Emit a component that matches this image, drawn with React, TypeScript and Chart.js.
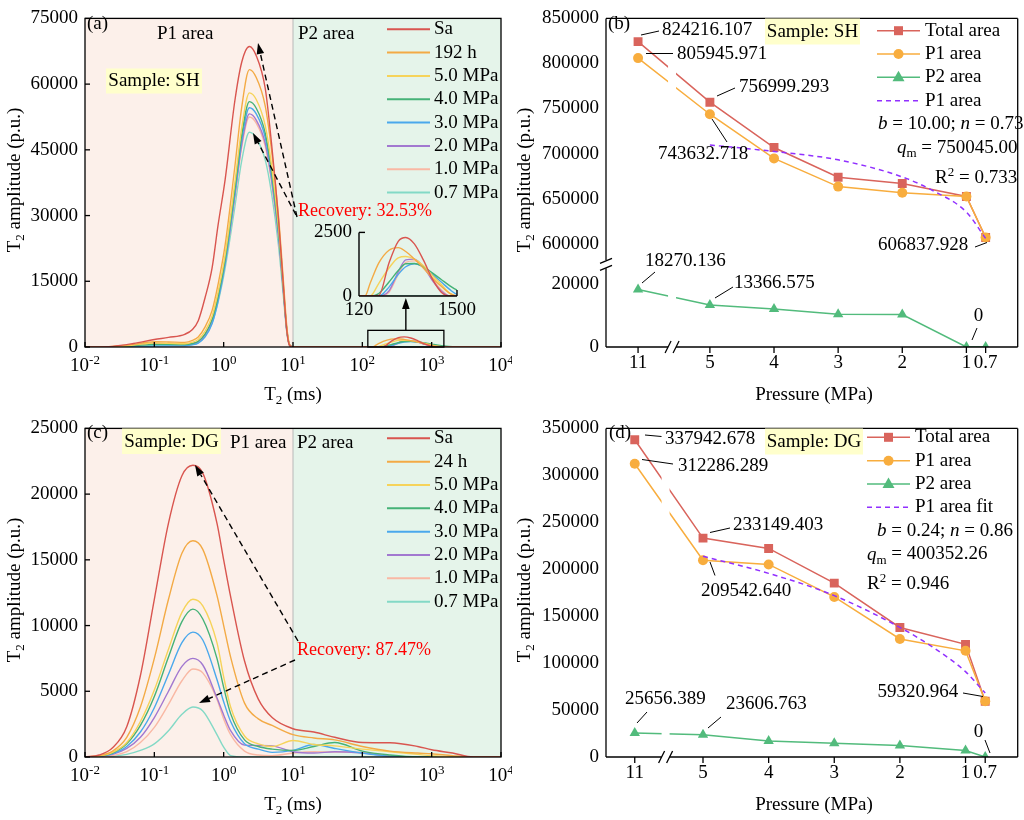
import React, { useEffect, useRef } from 'react';
import { Chart, registerables } from 'chart.js';

Chart.register(...registerables);

const SERIF = '"Liberation Serif", "Times New Roman", Times, serif';
Chart.defaults.font.family = SERIF;
Chart.defaults.font.size = 19;
Chart.defaults.color = '#000';

// ================= (a) sample SH : T2 spectra =================
const SH_T2 = [0.01, 0.025, 0.05, 0.1, 0.16, 0.275, 0.355, 0.43, 0.54, 0.68, 0.83, 1.05, 1.45, 1.82, 2.35, 2.95, 3.98, 4.9, 6.17, 7.24, 8.13, 8.9, 10,
  120, 140, 160, 200, 260, 330, 400, 500, 630, 800, 1000, 1250, 1500, 2000, 3000, 10000];
const SH_SA = [0, 150, 800, 1700, 2200, 2900, 4000, 6000, 11300, 18000, 27800, 38200, 56200, 65000, 68600, 66500, 59000, 46500, 29300, 14300, 3800, 400, 0,
  0, 0, 0, 20, 1300, 2150, 2300, 2050, 1420, 650, 150, 0, 0, 0, 0, 0];
const SH_192H = [0, 100, 600, 1200, 1150, 1050, 1500, 2300, 4600, 8300, 14300, 23300, 41200, 54700, 63300, 61500, 55000, 45000, 30000, 15500, 4800, 600, 0,
  0, 0, 500, 1300, 1800, 1900, 1750, 1450, 1100, 700, 380, 100, 0, 0, 0, 0];
const SH_50 = [0, 80, 450, 900, 850, 750, 1100, 1700, 3600, 7000, 12500, 21000, 37500, 50000, 58000, 56500, 50500, 41500, 27500, 14000, 4200, 500, 0,
  0, 0, 0, 500, 1100, 1500, 1550, 1450, 1200, 800, 450, 100, 0, 0, 0, 0];
const SH_40 = [0, 50, 300, 600, 600, 550, 800, 1300, 3000, 6300, 11500, 20000, 36000, 48300, 56000, 54500, 48800, 40000, 26500, 13500, 4000, 500, 0,
  0, 0, 0, 100, 550, 1000, 1270, 1280, 1150, 900, 650, 400, 230, 50, 0, 0];
const SH_30 = [0, 0, 50, 200, 250, 300, 500, 900, 2300, 5300, 10500, 19000, 35000, 47200, 54600, 53200, 47800, 39300, 26000, 13300, 4000, 500, 0,
  0, 0, 0, 0, 350, 850, 1150, 1270, 1150, 850, 550, 250, 60, 0, 0, 0];
const SH_20 = [0, 80, 450, 830, 750, 600, 800, 1200, 2800, 6000, 11000, 19200, 34500, 46200, 53200, 51800, 46500, 38200, 25300, 13000, 3900, 500, 0,
  0, 0, 0, 0, 200, 950, 1420, 1450, 1150, 600, 200, 0, 0, 0, 0, 0];
const SH_10 = [0, 60, 350, 650, 600, 550, 750, 1150, 2700, 5900, 10800, 19000, 34000, 45600, 52500, 51100, 45800, 37700, 25000, 12800, 3800, 450, 0,
  0, 0, 0, 0, 150, 850, 1320, 1380, 1150, 650, 250, 0, 0, 0, 0, 0];
const SH_07 = [0, 30, 200, 400, 400, 400, 600, 1000, 2500, 5500, 10200, 18000, 32000, 42500, 49000, 47700, 42700, 35100, 23200, 11800, 3400, 400, 0,
  0, 0, 0, 0, 0, 0, 0, 0, 0, 0, 0, 0, 0, 0, 0, 0];
const SH_SERIES = [SH_SA, SH_192H, SH_50, SH_40, SH_30, SH_20, SH_10, SH_07];
const SH_LABELS = ['Sa', '192 h', '5.0 MPa', '4.0 MPa', '3.0 MPa', '2.0 MPa', '1.0 MPa', '0.7 MPa'];
const INSET_X = [120, 1500];
const INSET_Y = [0, 2500];
const ZOOM_BOX_TOP = 3800;

// ================= (c) sample DG : T2 spectra =================
const DG_T2 = [0.01, 0.016, 0.025, 0.04, 0.063, 0.1, 0.16, 0.25, 0.36, 0.5, 0.8, 1, 1.26, 2, 3.16, 5, 10, 20, 40, 100, 250, 630, 1000, 2000, 4000, 10000];
const DG_SA = [0, 150, 700, 2300, 6200, 12000, 17800, 21400, 22200, 21600, 17800, 15000, 12200, 7300, 4400, 3000, 2150, 1900, 1500, 1100, 1080, 800, 550, 300, 0, 0];
const DG_24H = [0, 100, 450, 1500, 3800, 7500, 12000, 15500, 16450, 15800, 12300, 10000, 7600, 4100, 2900, 2400, 1700, 1450, 1300, 800, 450, 300, 250, 100, 0, 0];
const DG_50 = [0, 80, 350, 1100, 2700, 5100, 8200, 11000, 12000, 11500, 8700, 6100, 3800, 1600, 1000, 800, 1250, 950, 850, 600, 400, 200, 100, 0, 0, 0];
const DG_40 = [0, 70, 300, 1000, 2400, 4600, 7600, 10300, 11250, 10500, 7500, 5300, 3300, 1300, 800, 600, 500, 800, 1100, 450, 150, 0, 0, 0, 0, 0];
const DG_30 = [0, 50, 250, 800, 1900, 3750, 6300, 8700, 9500, 8900, 5900, 4200, 2700, 1000, 600, 350, 500, 950, 650, 300, 50, 0, 0, 0, 0, 0];
const DG_20 = [0, 40, 200, 650, 1500, 3000, 5000, 6900, 7500, 7000, 4500, 3200, 2000, 900, 880, 850, 400, 300, 400, 300, 50, 0, 0, 0, 0, 0];
const DG_10 = [0, 20, 100, 400, 1100, 2250, 4000, 5800, 6700, 6400, 4400, 2900, 1700, 450, 150, 100, 300, 400, 380, 350, 100, 0, 0, 0, 0, 0];
const DG_07 = [0, 0, 50, 200, 500, 1000, 2000, 3250, 3800, 3500, 1700, 750, 100, 0, 0, 0, 0, 0, 0, 0, 0, 0, 0, 0, 0, 0];
const DG_SERIES = [DG_SA, DG_24H, DG_50, DG_40, DG_30, DG_20, DG_10, DG_07];
const DG_LABELS = ['Sa', '24 h', '5.0 MPa', '4.0 MPa', '3.0 MPa', '2.0 MPa', '1.0 MPa', '0.7 MPa'];

const T2_DECADES = [0.01, 0.1, 1, 10, 100, 1000, 10000];
const P1_P2_LIMIT = 10;

// ================= (b) / (d) : areas vs pressure =================
const PRESSURE_LABELS = ['11', '5', '4', '3', '2', '1', '0.7'];
const SH_PRESSURE_POS = [6.12, 5, 4, 3, 2, 1, 0.7];
const SH_TOTAL = [824216.107, 756999.293, 706700, 673700, 666700, 652400, 606837.928];
const SH_P1 = [805945.971, 743632.718, 694600, 663300, 656400, 652400, 606837.928];
const SH_P2 = [18270.136, 13366.575, 12100, 10400, 10300, 0, 0];
const SH_FIT_POS = [5, 4, 3, 2, 1.5, 1, 0.7];
const SH_FIT = [709500, 702300, 693000, 674000, 658000, 635000, 605800];
const SH_TOP_TICKS = [600000, 650000, 700000, 750000, 800000, 850000];
const SH_BOT_TICKS = [0, 10000, 20000];

const DG_PRESSURE_POS = [6.04, 5, 4, 3, 2, 1, 0.7];
const DG_TOTAL = [337942.678, 233149.403, 222150, 185200, 138000, 120000, 59320.964];
const DG_P1 = [312286.289, 209542.64, 205100, 170500, 125750, 113100, 59320.964];
const DG_P2 = [25656.389, 23606.763, 17050, 14700, 12250, 6900, 0];
const DG_FIT_POS = [5, 4, 3, 2, 1.5, 1, 0.7];
const DG_FIT = [213800, 195600, 171900, 138000, 117000, 90900, 68100];
const DG_TICKS = [0, 50000, 100000, 150000, 200000, 250000, 300000, 350000];

// ================= styles =================
const SERIES_COLORS = ['#d9554f', '#f3aa45', '#f6d35a', '#45b277', '#4aa8ec', '#a278d0', '#f9b8a4', '#83d9c6'];
const RED = '#d9645c';
const ORANGE = '#f8ad3e';
const GREEN = '#52bb7c';
const FIT_C = '#9130ff';
const P1_BG = 'rgb(252,240,234)';
const P2_BG = 'rgb(229,244,234)';
const SAMPLE_BG = 'rgb(255,255,204)';

// ================= drawing helpers =================
type Part = { t: string; i?: boolean; sub?: boolean; sup?: boolean };
function partFont(p: Part, size: number) {
  const s = p.sub || p.sup ? Math.round(size * 0.66) : size;
  return `${p.i ? 'italic ' : ''}${s}px ${SERIF}`;
}
function drawParts(ctx: any, parts: Part[], x: number, y: number, size = 19, align = 'left', color = '#000') {
  let w = 0;
  for (const p of parts) { ctx.font = partFont(p, size); w += ctx.measureText(p.t).width; }
  let cx = align === 'left' ? x : align === 'center' ? x - w / 2 : x - w;
  ctx.save();
  ctx.fillStyle = color;
  ctx.textAlign = 'left';
  ctx.textBaseline = 'middle';
  for (const p of parts) {
    ctx.font = partFont(p, size);
    const dy = p.sub ? size * 0.3 : p.sup ? -size * 0.3 : 0;
    ctx.fillText(p.t, cx, y + dy);
    cx += ctx.measureText(p.t).width;
  }
  ctx.restore();
}
function txt(ctx: any, s: string, x: number, y: number, size = 19, align = 'left', color = '#000') {
  drawParts(ctx, [{ t: s }], x, y, size, align, color);
}
function seg(ctx: any, x1: number, y1: number, x2: number, y2: number, w = 1, color = '#000', dash: number[] = []) {
  ctx.save();
  ctx.strokeStyle = color;
  ctx.lineWidth = w;
  ctx.setLineDash(dash);
  ctx.beginPath();
  ctx.moveTo(x1, y1);
  ctx.lineTo(x2, y2);
  ctx.stroke();
  ctx.restore();
}
function arrow(ctx: any, x1: number, y1: number, x2: number, y2: number, dashed: boolean) {
  const ang = Math.atan2(y2 - y1, x2 - x1);
  const hl = 11, hw = 3.8;
  const bx = x2 - hl * Math.cos(ang), by = y2 - hl * Math.sin(ang);
  seg(ctx, x1, y1, bx, by, 1.4, '#000', dashed ? [6, 4] : []);
  ctx.save();
  ctx.fillStyle = '#000';
  ctx.beginPath();
  ctx.moveTo(x2, y2);
  ctx.lineTo(bx + hw * Math.sin(ang), by - hw * Math.cos(ang));
  ctx.lineTo(bx - hw * Math.sin(ang), by + hw * Math.cos(ang));
  ctx.closePath();
  ctx.fill();
  ctx.restore();
}
function sampleBox(ctx: any, x: number, y: number, w: number, h: number, s: string) {
  ctx.save();
  ctx.fillStyle = SAMPLE_BG;
  ctx.fillRect(x, y, w, h);
  ctx.restore();
  txt(ctx, s, x + w / 2, y + h / 2 + 0.5, 19, 'center');
}
function marker(ctx: any, kind: string, x: number, y: number, color: string) {
  ctx.save();
  ctx.fillStyle = color;
  ctx.beginPath();
  if (kind === 'rect') ctx.rect(x - 4.5, y - 4.5, 9, 9);
  else if (kind === 'circle') ctx.arc(x, y, 5, 0, Math.PI * 2);
  else { ctx.moveTo(x, y - 6.5); ctx.lineTo(x + 6, y + 4); ctx.lineTo(x - 6, y + 4); ctx.closePath(); }
  ctx.fill();
  ctx.restore();
}
const T2_TITLE: Part[] = [{ t: 'T' }, { t: '2', sub: true }, { t: ' (ms)' }];
const AMP_TITLE: Part[] = [{ t: 'T' }, { t: '2', sub: true }, { t: ' amplitude (p.u.)' }];
function yTitle(ctx: any, x: number, y: number) {
  ctx.save();
  ctx.translate(x, y);
  ctx.rotate(-Math.PI / 2);
  drawParts(ctx, AMP_TITLE, 0, 0, 19, 'center');
  ctx.restore();
}
const fmt = (v: number) => (v === 0 ? '0' : v.toFixed(3));

// ================= T2 spectrum chart config =================
function t2Config(o: any) {
  const datasets = o.series.map((s: number[], k: number) => ({
    label: o.labels[k],
    data: o.t2.map((x: number, i: number) => ({ x, y: s[i] })),
    borderColor: SERIES_COLORS[k],
    borderWidth: 1.4,
    pointRadius: 0,
    fill: false,
    cubicInterpolationMode: 'monotone',
  }));
  const plugin = {
    id: 'decoT2',
    beforeDatasetsDraw(chart: any) {
      const { ctx, chartArea: a, scales } = chart;
      const xb = scales.x.getPixelForValue(P1_P2_LIMIT);
      ctx.save();
      ctx.fillStyle = P1_BG;
      ctx.fillRect(a.left, a.top, xb - a.left, a.bottom - a.top);
      ctx.fillStyle = P2_BG;
      ctx.fillRect(xb, a.top, a.right - xb, a.bottom - a.top);
      ctx.restore();
      seg(ctx, xb, a.top, xb, a.bottom, 1, '#b8b8b8');
    },
    afterDraw(chart: any) {
      const { ctx, chartArea: a, scales } = chart;
      ctx.save();
      ctx.strokeStyle = '#000';
      ctx.lineWidth = 1.3;
      ctx.strokeRect(a.left, a.top, a.right - a.left, a.bottom - a.top);
      ctx.restore();
      for (const t of scales.x.ticks) {
        const p = scales.x.getPixelForValue(t.value);
        seg(ctx, p, a.bottom, p, a.bottom - 5, 1.3);
        const e = String(Math.round(Math.log10(t.value)));
        drawParts(ctx, [{ t: '10' }, { t: e, sup: true }], p, a.bottom + 19, 19, 'center');
      }
      for (const t of scales.y.ticks) {
        const p = scales.y.getPixelForValue(t.value);
        seg(ctx, a.left, p, a.left + 5, p, 1.3);
      }
      ctx.save();
      ctx.translate(-o.ox, -o.oy);
      const H = {
        X: (v: number) => scales.x.getPixelForValue(v) + o.ox,
        Y: (v: number) => scales.y.getPixelForValue(v) + o.oy,
      };
      yTitle(ctx, 15, o.oy + 180);
      drawParts(ctx, T2_TITLE, 293, o.oy + 395, 19, 'center');
      o.labels.forEach((l: string, k: number) => {
        const ry = o.legendRows[k];
        seg(ctx, 387, ry, 430, ry, 2, SERIES_COLORS[k]);
        txt(ctx, l, 434, ry);
      });
      o.annotate(ctx, H);
      ctx.restore();
    },
  };
  return {
    type: 'line',
    data: { datasets },
    options: {
      animation: false,
      responsive: true,
      maintainAspectRatio: false,
      events: [],
      layout: { padding: { top: 13, right: 11, left: 0, bottom: 0 } },
      plugins: { legend: { display: false }, tooltip: { enabled: false } },
      scales: {
        x: {
          type: 'logarithmic', min: T2_DECADES[0], max: T2_DECADES[T2_DECADES.length - 1],
          afterBuildTicks: (s: any) => { s.ticks = T2_DECADES.map((v) => ({ value: v })); },
          ticks: { display: false },
          grid: { display: false, drawTicks: false },
          border: { display: false },
          afterFit: (s: any) => { s.height = 63; },
        },
        y: {
          type: 'linear', min: 0, max: o.yMax,
          ticks: { stepSize: o.yStep, padding: 7, color: '#000', font: { size: 19, family: SERIF }, callback: (v: any) => String(v) },
          grid: { display: false, drawTicks: false },
          border: { display: false },
          afterFit: (s: any) => { s.width = 85; },
        },
      },
    },
    plugins: [plugin],
  };
}

const configA = () => t2Config({
  t2: SH_T2, series: SH_SERIES, labels: SH_LABELS, yMax: 75000, yStep: 15000, ox: 0, oy: 0,
  legendRows: [29.3, 52.6, 75.9, 99.2, 122.6, 145.9, 169.2, 192.6],
  annotate: (ctx: any, H: any) => {
    txt(ctx, '(a)', 87, 24);
    txt(ctx, 'P1 area', 157, 34);
    txt(ctx, 'P2 area', 298, 34);
    sampleBox(ctx, 106, 68.5, 96, 25, 'Sample: SH');
    arrow(ctx, 297, 217, 258, 43, true);
    arrow(ctx, 296, 215, 253, 133, true);
    txt(ctx, 'Recovery: 32.53%', 298, 211, 18, 'left', '#ff0000');
    const x1 = H.X(INSET_X[0]), x2 = H.X(INSET_X[1]);
    const y1 = H.Y(ZOOM_BOX_TOP), y0 = H.Y(0);
    ctx.save();
    ctx.strokeStyle = '#000';
    ctx.lineWidth = 1.3;
    ctx.strokeRect(x1, y1, x2 - x1, y0 - y1);
    ctx.restore();
    arrow(ctx, (x1 + x2) / 2, y1, (x1 + x2) / 2, 298, false);
  },
});

const configC = () => t2Config({
  t2: DG_T2, series: DG_SERIES, labels: DG_LABELS, yMax: 25000, yStep: 5000, ox: 0, oy: 410,
  legendRows: [438.3, 461.7, 485, 508.3, 531.7, 555, 578.3, 601.7],
  annotate: (ctx: any) => {
    txt(ctx, '(c)', 87, 433);
    sampleBox(ctx, 122, 428.5, 99, 25.5, 'Sample: DG');
    txt(ctx, 'P1 area', 230, 443.5);
    txt(ctx, 'P2 area', 297, 443.5);
    arrow(ctx, 298, 641, 195, 465, true);
    arrow(ctx, 295, 660, 199, 703, true);
    txt(ctx, 'Recovery: 87.47%', 297, 650, 18, 'left', '#ff0000');
  },
});

const configInset = () => ({
  type: 'line',
  data: {
    datasets: SH_SERIES.map((s, k) => ({
      data: SH_T2.map((x, i) => ({ x, y: s[i] })),
      borderColor: SERIES_COLORS[k], borderWidth: 1.4, pointRadius: 0, fill: false,
      cubicInterpolationMode: 'monotone',
    })),
  },
  options: {
    animation: false, responsive: true, maintainAspectRatio: false, events: [],
    layout: { padding: { top: 12, right: 24, left: 0, bottom: 0 } },
    plugins: { legend: { display: false }, tooltip: { enabled: false } },
    scales: {
      x: {
        type: 'logarithmic', min: INSET_X[0], max: INSET_X[1],
        afterBuildTicks: (s: any) => { s.ticks = INSET_X.map((v) => ({ value: v })); },
        ticks: { autoSkip: false, maxRotation: 0, padding: 3, color: '#000', font: { size: 19, family: SERIF }, callback: (v: any) => String(v) },
        grid: { display: false, drawTicks: false }, border: { display: false },
        afterFit: (s: any) => { s.height = 28; },
      },
      y: {
        type: 'linear', min: INSET_Y[0], max: INSET_Y[1],
        afterBuildTicks: (s: any) => { s.ticks = INSET_Y.map((v) => ({ value: v })); },
        ticks: { padding: 7, color: '#000', font: { size: 19, family: SERIF }, callback: (v: any) => String(v) },
        grid: { display: false, drawTicks: false }, border: { display: false },
        afterFit: (s: any) => { s.width = 54; },
      },
    },
  },
  plugins: [{
    id: 'insetAxes',
    afterDraw(chart: any) {
      const { ctx, chartArea: a } = chart;
      seg(ctx, a.left, a.top, a.left, a.bottom, 1.4);
      seg(ctx, a.left, a.bottom, a.right, a.bottom, 1.4);
      seg(ctx, a.left, a.top, a.left + 6, a.top, 1.4);
      seg(ctx, a.right, a.bottom, a.right, a.bottom - 6, 1.4);
    },
  }],
});

// ================= pressure chart config =================
function pressureConfig(o: any) {
  const pts = (xs: number[], ys: number[]) => xs.map((x, i) => ({ x, y: ys[i] }));
  const datasets = [
    { data: pts(o.fitPos, o.fit), yAxisID: o.topId, borderColor: FIT_C, borderWidth: 1.5, borderDash: [5, 4], pointRadius: 0, cubicInterpolationMode: 'monotone', fill: false },
    { data: pts(o.pos, o.p2), yAxisID: o.botId, borderColor: GREEN, backgroundColor: GREEN, pointStyle: 'triangle', pointRadius: 6, pointBorderWidth: 0, borderWidth: 1.5, tension: 0, fill: false },
    { data: pts(o.pos, o.p1), yAxisID: o.topId, borderColor: ORANGE, backgroundColor: ORANGE, pointStyle: 'circle', pointRadius: 5, pointBorderWidth: 0, borderWidth: 1.5, tension: 0, fill: false },
    { data: pts(o.pos, o.total), yAxisID: o.topId, borderColor: RED, backgroundColor: RED, pointStyle: 'rect', pointRadius: 6.3, pointBorderWidth: 0, borderWidth: 1.5, tension: 0, fill: false },
  ];
  const plugin = {
    id: 'decoP',
    afterDatasetsDraw(chart: any) {
      const { ctx, chartArea: a, scales } = chart;
      const xb = scales.x.getPixelForValue(o.breakAt);
      ctx.save();
      ctx.fillStyle = '#fff';
      ctx.fillRect(xb - 4, a.top + 1, 8, a.bottom - a.top - 2);
      ctx.restore();
    },
    afterDraw(chart: any) {
      const { ctx, chartArea: a, scales } = chart;
      const xb = scales.x.getPixelForValue(o.breakAt);
      const W = 1.3;
      seg(ctx, a.left, a.top, a.right, a.top, W);
      seg(ctx, a.right, a.top, a.right, a.bottom, W);
      seg(ctx, a.left, a.bottom, xb - 4, a.bottom, W);
      seg(ctx, xb + 4, a.bottom, a.right, a.bottom, W);
      seg(ctx, xb - 7, a.bottom + 6, xb - 1, a.bottom - 6, W);
      seg(ctx, xb + 1, a.bottom + 6, xb + 7, a.bottom - 6, W);
      if (o.topId !== o.botId) {
        const yb = scales[o.topId].bottom;
        seg(ctx, a.left, a.top, a.left, yb - 4, W);
        seg(ctx, a.left, yb + 4, a.left, a.bottom, W);
        seg(ctx, a.left - 6, yb - 1, a.left + 6, yb - 6, W);
        seg(ctx, a.left - 6, yb + 6, a.left + 6, yb + 1, W);
      } else {
        seg(ctx, a.left, a.top, a.left, a.bottom, W);
      }
      for (const t of scales.x.ticks) {
        const p = scales.x.getPixelForValue(t.value);
        seg(ctx, p, a.bottom, p, a.bottom + 6, W);
      }
      ctx.save();
      ctx.translate(-o.ox, -o.oy);
      yTitle(ctx, 525, o.oy + 180);
      txt(ctx, 'Pressure (MPa)', 814, o.oy + 395, 19, 'center');
      const L = o.legend;
      const xm = (L.x1 + L.x2) / 2;
      seg(ctx, L.x1, L.rows[0], L.x2, L.rows[0], 1.5, RED); marker(ctx, 'rect', xm, L.rows[0], RED);
      seg(ctx, L.x1, L.rows[1], L.x2, L.rows[1], 1.5, ORANGE); marker(ctx, 'circle', xm, L.rows[1], ORANGE);
      seg(ctx, L.x1, L.rows[2], L.x2, L.rows[2], 1.5, GREEN); marker(ctx, 'tri', xm, L.rows[2], GREEN);
      seg(ctx, L.x1, L.rows[3], L.x2, L.rows[3], 1.6, FIT_C, [5, 4]);
      L.labels.forEach((s: string, k: number) => txt(ctx, s, L.tx, L.rows[k]));
      o.annotate(ctx);
      ctx.restore();
    },
  };
  const yBase = (min: number, max: number, ticks: number[], extra: any) => ({
    type: 'linear', position: 'left', min, max,
    afterBuildTicks: (s: any) => { s.ticks = ticks.map((v) => ({ value: v })); },
    ticks: { padding: 7, color: '#000', font: { size: 19, family: SERIF }, callback: (v: any) => String(v) },
    grid: { display: false, drawTicks: false },
    border: { display: false },
    afterFit: (s: any) => { s.width = 94; },
    ...extra,
  });
  const scales: any = {
    x: {
      type: 'linear', reverse: true, min: o.xMin, max: o.xMax,
      afterBuildTicks: (s: any) => { s.ticks = o.pos.map((v: number) => ({ value: v })); },
      ticks: { autoSkip: false, maxRotation: 0, padding: 5, color: '#000', font: { size: 19, family: SERIF }, callback: (_v: any, i: number) => PRESSURE_LABELS[i] },
      grid: { display: false, drawTicks: false },
      border: { display: false },
      afterFit: (s: any) => { s.height = 63; },
    },
  };
  for (const y of o.yAxes) scales[y.id] = yBase(y.min, y.max, y.ticks, y.extra || {});
  return {
    type: 'line',
    data: { datasets },
    options: {
      animation: false,
      responsive: true,
      maintainAspectRatio: false,
      events: [],
      layout: { padding: { top: 13, right: 2, left: 0, bottom: 0 } },
      plugins: { legend: { display: false }, tooltip: { enabled: false } },
      scales,
    },
    plugins: [plugin],
  };
}

function leader(ctx: any, x1: number, y1: number, x2: number, y2: number) { seg(ctx, x1, y1, x2, y2, 1, '#000'); }

const configB = () => pressureConfig({
  pos: SH_PRESSURE_POS, total: SH_TOTAL, p1: SH_P1, p2: SH_P2, fitPos: SH_FIT_POS, fit: SH_FIT,
  xMin: 0.2, xMax: 6.62, breakAt: 5.59, topId: 'yTop', botId: 'yBot', ox: 512, oy: 0,
  yAxes: [
    { id: 'yTop', min: 577000, max: 850000, ticks: SH_TOP_TICKS, extra: { stack: 'sh', stackWeight: 250, weight: 2 } },
    { id: 'yBot', min: 0, max: 26250, ticks: SH_BOT_TICKS, extra: { stack: 'sh', stackWeight: 84, weight: 1 } },
  ],
  legend: { x1: 877, x2: 920, tx: 925, rows: [30.7, 54, 77.3, 100.7], labels: ['Total area', 'P1 area', 'P2 area', 'P1 area'] },
  annotate: (ctx: any) => {
    txt(ctx, '(b)', 608, 24);
    sampleBox(ctx, 765, 18.5, 95, 26, 'Sample: SH');
    drawParts(ctx, [{ t: 'b', i: true }, { t: ' = 10.00; ' }, { t: 'n', i: true }, { t: ' = 0.73' }], 878, 124);
    drawParts(ctx, [{ t: 'q', i: true }, { t: 'm', sub: true }, { t: ' = 750045.00' }], 897, 148);
    drawParts(ctx, [{ t: 'R' }, { t: '2', sup: true }, { t: ' = 0.733' }], 935, 178);
    leader(ctx, 641, 35, 659, 31); txt(ctx, fmt(SH_TOTAL[0]), 662, 30.5);
    leader(ctx, 646, 53.5, 673, 53.5); txt(ctx, fmt(SH_P1[0]), 677, 54);
    leader(ctx, 717, 96, 735, 88); txt(ctx, fmt(SH_TOTAL[1]), 739, 87.5);
    leader(ctx, 712, 119, 727, 142); txt(ctx, fmt(SH_P1[1]), 658, 154.5);
    leader(ctx, 975, 247, 987, 242.5); txt(ctx, fmt(SH_P1[6]), 878, 245);
    leader(ctx, 642, 283, 655, 272); txt(ctx, fmt(SH_P2[0]), 645, 261.5);
    leader(ctx, 715, 298, 733, 287); txt(ctx, fmt(SH_P2[1]), 734, 283.5);
    leader(ctx, 972, 340, 977, 328); txt(ctx, fmt(SH_P2[5]), 978.5, 316.5, 19, 'center');
  },
});

const configD = () => pressureConfig({
  pos: DG_PRESSURE_POS, total: DG_TOTAL, p1: DG_P1, p2: DG_P2, fitPos: DG_FIT_POS, fit: DG_FIT,
  xMin: 0.205, xMax: 6.478, breakAt: 5.57, topId: 'y', botId: 'y', ox: 512, oy: 410,
  yAxes: [{ id: 'y', min: 0, max: 350000, ticks: DG_TICKS }],
  legend: { x1: 867, x2: 910, tx: 915, rows: [437.3, 460.7, 484, 507.3], labels: ['Total area', 'P1 area', 'P2 area', 'P1 area fit'] },
  annotate: (ctx: any) => {
    txt(ctx, '(d)', 609, 433);
    sampleBox(ctx, 765, 428.5, 98, 26, 'Sample: DG');
    drawParts(ctx, [{ t: 'b', i: true }, { t: ' = 0.24; ' }, { t: 'n', i: true }, { t: ' = 0.86' }], 877, 531);
    drawParts(ctx, [{ t: 'q', i: true }, { t: 'm', sub: true }, { t: ' = 400352.26' }], 867, 554.5);
    drawParts(ctx, [{ t: 'R' }, { t: '2', sup: true }, { t: ' = 0.946' }], 867, 584);
    leader(ctx, 645, 435, 661.5, 436.5); txt(ctx, fmt(DG_TOTAL[0]), 665, 439.5);
    leader(ctx, 642, 459.5, 673, 464); txt(ctx, fmt(DG_P1[0]), 678, 466);
    leader(ctx, 710, 532.5, 730, 528); txt(ctx, fmt(DG_TOTAL[1]), 733, 525.5);
    leader(ctx, 710, 562, 715, 575.5); txt(ctx, fmt(DG_P1[1]), 701, 591.5);
    leader(ctx, 963, 693, 983, 696.5); txt(ctx, fmt(DG_P1[6]), 877.5, 692.5);
    leader(ctx, 637, 723, 647, 712); txt(ctx, fmt(DG_P2[0]), 625, 699.5);
    leader(ctx, 708, 728, 721, 717); txt(ctx, fmt(DG_P2[1]), 726, 704);
    leader(ctx, 985, 740, 990, 753); txt(ctx, fmt(DG_P2[6]), 978.5, 732.5, 19, 'center');
  },
});

// ================= components =================
function ChartBox({ left, top, width, height, config }: any) {
  const ref = useRef<HTMLCanvasElement>(null);
  useEffect(() => {
    const chart = new Chart(ref.current as HTMLCanvasElement, config() as any);
    return () => chart.destroy();
  }, []);
  return (
    <div style={{ position: 'absolute', left, top, width, height }}>
      <canvas ref={ref} style={{ display: 'block' }} />
    </div>
  );
}

export default function App() {
  return (
    <div style={{ position: 'absolute', left: 0, top: 0, width: 1024, height: 820, background: '#fff', overflow: 'hidden' }}>
      <ChartBox left={0} top={0} width={512} height={410} config={configA} />
      <ChartBox left={305} top={214} width={176} height={110} config={configInset} />
      <ChartBox left={512} top={0} width={512} height={410} config={configB} />
      <ChartBox left={0} top={410} width={512} height={410} config={configC} />
      <ChartBox left={512} top={410} width={512} height={410} config={configD} />
    </div>
  );
}
